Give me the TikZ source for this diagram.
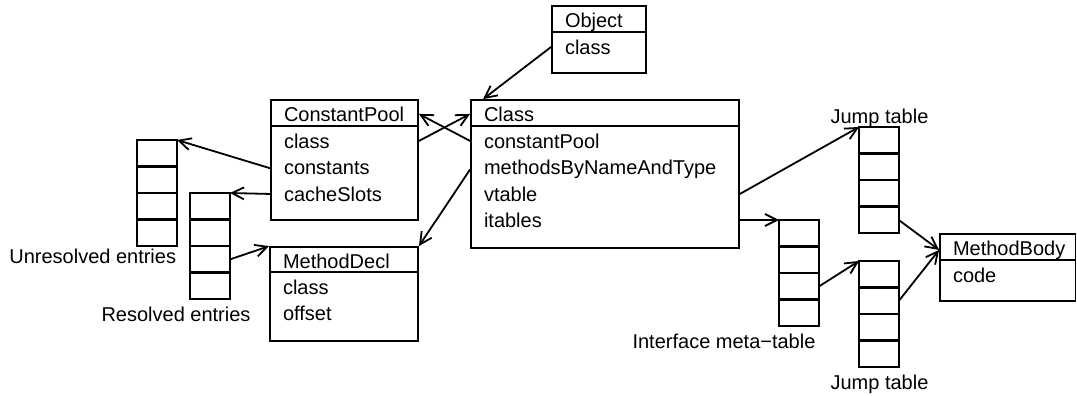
\documentclass[tikz,border=0pt]{standalone}
\usepackage{fontspec}
\setmainfont{Liberation Sans}
\usetikzlibrary{positioning,fit,calc,arrows.meta}

\begin{document}
\begin{tikzpicture}[
    x=0.5pt, y=-0.5pt,
    line width=0.9pt,
    box/.style={draw, inner sep=0pt},
    hdr/.style={anchor=base west, inner sep=0pt},
    fld/.style={anchor=base west, inner sep=0pt},
    cell/.style={draw, minimum width=20pt, minimum height=12.9pt, inner sep=0pt, outer sep=0pt},
    lbl/.style={anchor=base, inner sep=0pt},
    arrow/.style={-{Straight Barb[length=6pt, width=6pt]}}
]
\useasboundingbox (0,0) rectangle (1077,396);

% Object
\node[box, fit={(552,6) (646,73)}] (obj) {};
\draw ([yshift=-13.5pt]obj.north west) -- ([yshift=-13.5pt]obj.north east);
\node[hdr] (objh) at ($(obj.north west)+(13,22)$) {Object};
\node[fld] (obj1) at ($(obj.north west)+(13,49)$) {class};

% Class
\node[box, fit={(471,100) (739,248)}] (cls) {};
\draw ([yshift=-13.5pt]cls.north west) -- ([yshift=-13.5pt]cls.north east);
\node[hdr] (clsh) at ($(cls.north west)+(13,22)$) {Class};
\foreach \f [count=\k] in {constantPool, methodsByNameAndType, vtable, itables}
    \node[fld] (cls\k) at ($(cls.north west)+(13,49+26.5*\k-26.5)$) {\f};

% ConstantPool
\node[box, fit={(271,100) (418,220)}] (cp) {};
\draw ([yshift=-13.5pt]cp.north west) -- ([yshift=-13.5pt]cp.north east);
\node[hdr] (cph) at ($(cp.north west)+(13,22)$) {ConstantPool};
\foreach \f [count=\k] in {class, constants, cacheSlots}
    \node[fld] (cp\k) at ($(cp.north west)+(13,49+26.5*\k-26.5)$) {\f};

% MethodDecl
\node[box, fit={(270,247) (418,341)}] (md) {};
\draw ([yshift=-13pt]md.north west) -- ([yshift=-13pt]md.north east);
\node[hdr] (mdh) at ($(md.north west)+(13,22)$) {MethodDecl};
\foreach \f [count=\k] in {class, offset}
    \node[fld] (md\k) at ($(md.north west)+(13,48+26.5*\k-26.5)$) {\f};

% MethodBody
\node[box, fit={(940,234) (1075.5,301)}] (mb) {};
\draw ([yshift=-13.5pt]mb.north west) -- ([yshift=-13.5pt]mb.north east);
\node[hdr] (mbh) at ($(mb.north west)+(13,22)$) {MethodBody};
\node[fld] (mb1) at ($(mb.north west)+(13,49)$) {code};

% tables of four slots
\foreach \t/\x/\y in {ur/137/140, rs/190/193, jta/859/127, mt/779/220, jtb/859/261}
    \foreach \i in {1,...,4}
        \node[cell, anchor=north west] (\t\i) at (\x, \y+26.75*\i-26.75) {};

\node[lbl, anchor=base east] (urlbl) at (177,263) {Unresolved entries};
\node[lbl] (rslbl) at (176,321) {Resolved entries};
\node[lbl] (mtlbl) at (724,348) {Interface meta−table};
\node[lbl] (jtalbl) at (879.5,123) {Jump table};
\node[lbl] (jtblbl) at (879.5,389) {Jump table};

% pointers
\draw[arrow] (obj.west |- obj1) -- ([xshift=6.5pt]cls.north west);
\draw[arrow] (cp.east |- cp1) -- (cls.west |- clsh);
\draw[arrow] (cls.west |- cls1) -- (cp.east |- cph);
\draw[arrow] (cls.west |- cls2) -- (md.north east);
\draw[arrow] (cp.west |- cp2) -- (ur1.north east);
\draw[arrow] (cp.west |- cp3) -- (rs1.north east);
\draw[arrow] (rs3.east) -- (md.north west);
\draw[arrow] (cls.east |- cls3) -- (jta1.north west);
\draw[arrow] (cls.east |- mt1.north) -- (mt1.north west);
\draw[arrow] (mt3.east) -- (jtb1.north west);
\draw[arrow] (jta4.east) -- (mb.west |- mbh);
\draw[arrow] (jtb2.east) -- (mb.west |- mbh);

\end{tikzpicture}
\end{document}
